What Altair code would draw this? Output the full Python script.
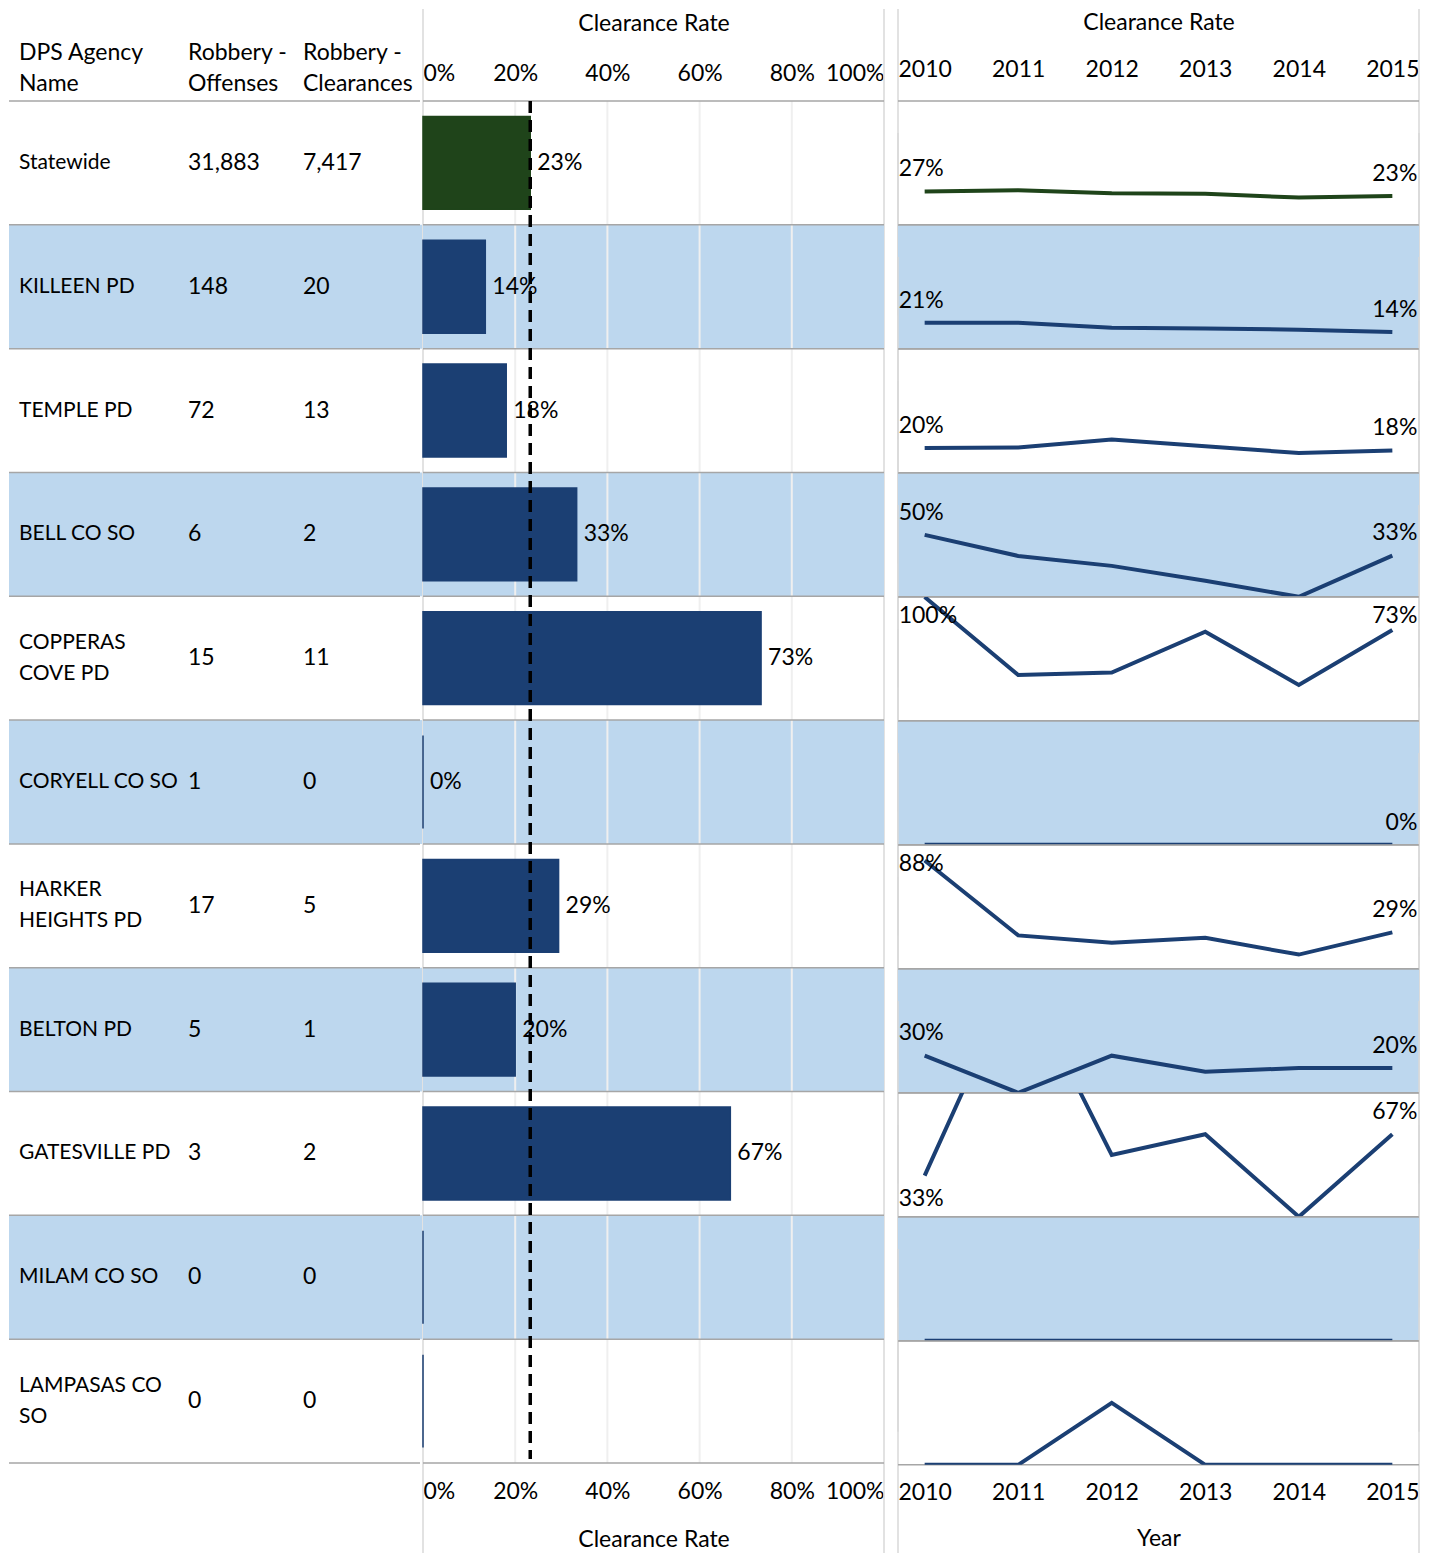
import altair as alt
import pandas as pd

# ---------------- data ----------------
agencies = ["Statewide", "KILLEEN PD", "TEMPLE PD", "BELL CO SO", "COPPERAS COVE PD",
            "CORYELL CO SO", "HARKER HEIGHTS PD", "BELTON PD", "GATESVILLE PD",
            "MILAM CO SO", "LAMPASAS CO SO"]
display_names = ["Statewide", "KILLEEN PD", "TEMPLE PD", "BELL CO SO", "COPPERAS\nCOVE PD",
                 "CORYELL CO SO", "HARKER\nHEIGHTS PD", "BELTON PD", "GATESVILLE PD",
                 "MILAM CO SO", "LAMPASAS CO\nSO"]
offenses = [31883, 148, 72, 6, 15, 1, 17, 5, 3, 0, 0]
clearances = [7417, 20, 13, 2, 11, 0, 5, 1, 2, 0, 0]
headers = ["DPS Agency\nName", "Robbery -\nOffenses", "Robbery -\nClearances"]
x_ticks = [0, 0.2, 0.4, 0.6, 0.8, 1.0]
years = [2010, 2011, 2012, 2013, 2014, 2015]

trend_statewide = [0.27, 0.28, 0.255, 0.25, 0.22, 0.233]
trend_killeen = [0.21, 0.21, 0.17, 0.165, 0.155, 0.135]
trend_temple = [0.20, 0.205, 0.27, 0.215, 0.16, 0.181]
trend_bell = [0.50, 0.33, 0.25, 0.13, 0.0, 0.333]
trend_copperas = [1.00, 0.37, 0.39, 0.72, 0.29, 0.733]
trend_coryell = [0.0, 0.0, 0.0, 0.0, 0.0, 0.0]
trend_harker = [0.875, 0.27, 0.21, 0.25, 0.115, 0.294]
trend_belton = [0.30, 0.0, 0.30, 0.17, 0.20, 0.20]
trend_gatesville = [0.333, 2.0, 0.50, 0.667, 0.0, 0.667]
trend_milam = [0.0, 0.0, 0.0, 0.0, 0.0, 0.0]
trend_lampasas = [0.0, 0.0, 0.50, 0.0, 0.0, 0.0]
trends = [trend_statewide, trend_killeen, trend_temple, trend_bell, trend_copperas,
          trend_coryell, trend_harker, trend_belton, trend_gatesville, trend_milam,
          trend_lampasas]

# ---------------- styling ----------------
FONT = "Lato"
FS = 23
FS_NAME = 21
GREEN = "#1F441A"
NAVY = "#1B3F73"
BLUE_BG = "#BDD7EE"
ROWLINE = "#A6A6A6"
VLINE = "#D9D9D9"
GRID = "#EFEFEF"

W_T, W_B, W_S = 411, 461, 521
H = 1362
N = len(agencies)
ROW_H = H / N
TOP_EXT = 92
BOT_EXT = 91
LINE_H = 31

# ---------------- tables ----------------
rates = [c / o if o else 0.0 for o, c in zip(offenses, clearances)]
tbl = pd.DataFrame({
    "agency": agencies,
    "name": display_names,
    "multi": ["\n" in n for n in display_names],
    "off_txt": [f"{v:,}" for v in offenses],
    "clr_txt": [f"{v:,}" for v in clearances],
    "rate": rates,
    "rate_txt": [f"{r:.0%}" if o else "" for r, o in zip(rates, offenses)],
    "stripe": ["w" if i % 2 == 0 else "b" for i in range(N)],
    "group": ["state"] + ["local"] * (N - 1),
})

recs = []
for i, (ag, vals) in enumerate(zip(agencies, trends)):
    for j, (yr, v) in enumerate(zip(years, vals)):
        start_txt = f"{v:.0%}" if (j == 0 and v > 0) else ""
        end_txt = f"{v:.0%}" if (j == len(years) - 1 and offenses[i] > 0) else ""
        ly = min(v + 0.18, 0.85)
        if j == 0 and vals[1] - v > 0.5:
            ly = v - 0.19
        recs.append({
            "agency": ag, "year": yr, "value": v,
            "start_txt": start_txt, "end_txt": end_txt, "label_y": ly,
            "stripe": "w" if i % 2 == 0 else "b",
            "group": "state" if i == 0 else "local",
        })
spark = pd.DataFrame(recs)

color_scale = alt.Scale(domain=["state", "local"], range=[GREEN, NAVY])
yband = alt.Scale(type="band", domain=agencies, paddingInner=0, paddingOuter=0)


def Yrow(**kw):
    return alt.Y("agency:N", sort=agencies, axis=None, scale=yband, **kw)


# ---------------- table panel ----------------
tbase = alt.Chart(tbl)
t_bg = tbase.transform_filter("datum.stripe == 'b'").mark_rect(color=BLUE_BG).encode(
    y=Yrow(), x=alt.value(0), x2=alt.value(W_T + 2))
t_rows = tbase.mark_rule(color=ROWLINE, strokeWidth=1.5).encode(
    y=Yrow(bandPosition=0), x=alt.value(0), x2=alt.value(W_T))
t_bottom = tbase.transform_filter(f"datum.agency == '{agencies[-1]}'").mark_rule(
    color=ROWLINE, strokeWidth=1.5).encode(
    y=Yrow(bandPosition=1), x=alt.value(0), x2=alt.value(W_T))
text_kw = dict(align="left", baseline="middle", font=FONT, color="black",
               lineBreak="\n", lineHeight=LINE_H)
t_name1 = tbase.transform_filter("!datum.multi").mark_text(fontSize=FS_NAME, **text_kw).encode(
    y=Yrow(), x=alt.value(10), text="name:N")
t_name2 = tbase.transform_filter("datum.multi").mark_text(
    fontSize=FS_NAME, dy=-LINE_H / 2, **text_kw).encode(
    y=Yrow(), x=alt.value(10), text="name:N")
t_off = tbase.mark_text(fontSize=FS, **text_kw).encode(y=Yrow(), x=alt.value(179), text="off_txt:N")
t_clr = tbase.mark_text(fontSize=FS, **text_kw).encode(y=Yrow(), x=alt.value(294), text="clr_txt:N")
hdr_layers = []
for h, xpos in zip(headers, [10, 179, 294]):
    hdr_layers.append(
        alt.Chart(pd.DataFrame({"h": [h]})).mark_text(fontSize=FS, **text_kw).encode(
            x=alt.value(xpos), y=alt.value(-48), text="h:N"))
table = alt.layer(t_bg, t_rows, t_bottom, t_name1, t_name2, t_off, t_clr,
                  *hdr_layers).properties(width=W_T, height=H)

# ---------------- bar panel ----------------
xs = alt.Scale(domain=[0, 1], nice=False)
axis_common = dict(values=x_ticks, format=".0%", labelFlush=True, labelOverlap=False,
                   grid=False, domain=False, ticks=False, tickSize=0,
                   labelFontSize=FS, labelFont=FONT, labelColor="black",
                   title="Clearance Rate", titleFontSize=FS, titleFont=FONT,
                   titleFontWeight="normal", titleColor="black")
top_axis = alt.Axis(orient="top", labelPadding=16, titlePadding=27, **axis_common)
bot_axis = alt.Axis(orient="bottom", labelPadding=17, titlePadding=25, **axis_common)

bbase = alt.Chart(tbl)
b_vlines = alt.Chart(pd.DataFrame({"edge": [0.0, 1.0]})).mark_rule(
    color=VLINE, strokeWidth=1.5).encode(
    x=alt.X("edge:Q", scale=xs, axis=None),
    y=alt.value(-TOP_EXT), y2=alt.value(H + BOT_EXT))
b_bg = bbase.transform_filter("datum.stripe == 'b'").mark_rect(color=BLUE_BG).encode(
    y=Yrow(), x=alt.value(0), x2=alt.value(W_B))
b_grid = alt.Chart(pd.DataFrame({"tick": x_ticks[1:-1]})).mark_rule(
    color=GRID, strokeWidth=2).encode(
    x=alt.X("tick:Q", scale=xs, axis=None), y=alt.value(0), y2=alt.value(H))
b_rows = bbase.mark_rule(color=ROWLINE, strokeWidth=1.5).encode(
    y=Yrow(bandPosition=0), x=alt.value(0), x2=alt.value(W_B))
b_bottom = bbase.transform_filter(f"datum.agency == '{agencies[-1]}'").mark_rule(
    color=ROWLINE, strokeWidth=1.5).encode(
    y=Yrow(bandPosition=1), x=alt.value(0), x2=alt.value(W_B))
b_bars = bbase.mark_bar(height={"band": 0.75}, strokeWidth=1.5).encode(
    x=alt.X("rate:Q", scale=xs, axis=top_axis),
    y=Yrow(),
    color=alt.Color("group:N", scale=color_scale, legend=None),
    stroke=alt.Stroke("group:N", scale=color_scale, legend=None))
b_labels = bbase.mark_text(align="left", baseline="middle", dx=7, font=FONT,
                           fontSize=FS, color="black").encode(
    x=alt.X("rate:Q", scale=xs, axis=bot_axis), y=Yrow(), text="rate_txt:N")
b_ref = bbase.transform_filter("datum.group == 'state'").mark_rule(
    strokeDash=[12, 7], strokeWidth=3.5, color="black").encode(
    x=alt.X("rate:Q", scale=xs, axis=None), y=alt.value(0), y2=alt.value(H - 4))
bars = alt.layer(b_vlines, b_bg, b_grid, b_rows, b_bottom, b_bars, b_ref, b_labels).resolve_axis(
    x="independent").properties(width=W_B, height=H)

# ---------------- sparkline panel ----------------
ys = alt.Scale(domain=[0, 1], nice=False, zero=False)
year_scale = alt.Scale(type="point", domain=years, padding=0.285)
yr_common = dict(grid=False, domain=False, ticks=False, tickSize=0, labelAngle=0,
                 labelFontSize=FS, labelFont=FONT, labelColor="black",
                 titleFontSize=FS, titleFont=FONT, titleFontWeight="normal",
                 titleColor="black")
yr_top = alt.Axis(orient="top", title="Clearance Rate", labelPadding=20, titlePadding=24,
                  **yr_common)
yr_bot = alt.Axis(orient="bottom", title="Year", labelPadding=16, titlePadding=23,
                  **yr_common)

sb = alt.Chart()
first = "datum.year == 2010"
s_vl = sb.transform_filter(first).mark_rule(color=VLINE, strokeWidth=1.5).encode(
    x=alt.value(0), y=alt.value(-TOP_EXT), y2=alt.value(ROW_H + BOT_EXT))
s_vr = sb.transform_filter(first).mark_rule(color=VLINE, strokeWidth=1.5).encode(
    x=alt.value(W_S), y=alt.value(-TOP_EXT), y2=alt.value(ROW_H + BOT_EXT))
s_bg = sb.transform_filter(first + " && datum.stripe == 'b'").mark_rect(color=BLUE_BG).encode(
    x=alt.value(0), x2=alt.value(W_S), y=alt.value(0), y2=alt.value(ROW_H))
s_top = sb.transform_filter(first).mark_rule(color=ROWLINE, strokeWidth=1.5).encode(
    x=alt.value(0), x2=alt.value(W_S), y=alt.value(0))
s_bot = sb.transform_filter(first).mark_rule(color=ROWLINE, strokeWidth=1.5).encode(
    x=alt.value(0), x2=alt.value(W_S), y=alt.value(ROW_H))
s_line = sb.mark_line(clip=True, strokeWidth=4).encode(
    x=alt.X("year:O", scale=year_scale, axis=yr_top),
    y=alt.Y("value:Q", scale=ys, axis=None),
    color=alt.Color("group:N", scale=color_scale, legend=None))
s_start = sb.transform_filter("datum.start_txt != ''").mark_text(
    align="left", baseline="middle", dx=-26, font=FONT, fontSize=FS, color="black").encode(
    x=alt.X("year:O", scale=year_scale, axis=yr_bot),
    y=alt.Y("label_y:Q", scale=ys, axis=None), text="start_txt:N")
s_end = sb.transform_filter("datum.end_txt != ''").mark_text(
    align="right", baseline="middle", dx=25, font=FONT, fontSize=FS, color="black").encode(
    x=alt.X("year:O", scale=year_scale, axis=None),
    y=alt.Y("label_y:Q", scale=ys, axis=None), text="end_txt:N")

spark_layer = alt.layer(s_vl, s_vr, s_bg, s_top, s_bot, s_line, s_start, s_end,
                        data=spark).resolve_axis(x="independent").properties(
    width=W_S, height=ROW_H)
spark_chart = spark_layer.facet(
    row=alt.Row("agency:N", sort=agencies, header=None),
    spacing=0, bounds="flush")

chart = alt.hconcat(
    alt.hconcat(table, bars, spacing=0),
    spark_chart,
    spacing=12,
).properties(padding=0, background="white").configure_view(stroke=None)

chart.save("out.html", embed_options={"renderer": "svg", "actions": False})
